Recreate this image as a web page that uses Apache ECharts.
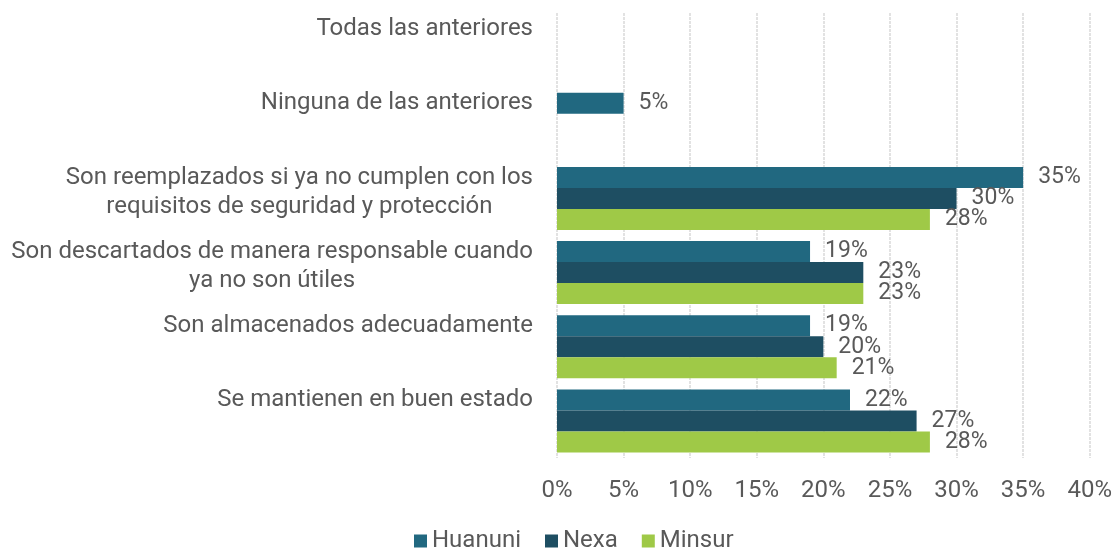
<!DOCTYPE html>
<html>
<head>
<meta charset="utf-8">
<script src="https://cdn.jsdelivr.net/npm/echarts@6/dist/echarts.min.js"></script>
<style>html,body{margin:0;padding:0;background:#fff}#c{width:1115px;height:554px}</style>
</head>
<body>
<div id="c"></div>
<script>
const categories = [
  'Se mantienen en buen estado',
  'Son almacenados adecuadamente',
  'Son descartados de manera responsable cuando\nya no son útiles',
  'Son reemplazados si ya no cumplen con los\nrequisitos de seguridad y protección',
  'Ninguna de las anteriores',
  'Todas las anteriores'
];
const seriesNames = ['Huanuni', 'Nexa', 'Minsur'];
const huanuni = [22, 19, 19, 35, 5, null];
const nexa = [27, 20, 23, 30, null, null];
const minsur = [28, 21, 23, 28, null, null];
const xTicks = [0, 5, 10, 15, 20, 25, 30, 35, 40];

const colors = { Huanuni: '#216880', Nexa: '#1e4e62', Minsur: '#9fc947' };
const FONT = 'Roboto';
const FS = 24;
const chart = echarts.init(document.getElementById('c'), null, { renderer: 'canvas' });

function mkSeries(name, data) {
  return {
    name: name, type: 'bar', data: data,
    barGap: '0%', barCategoryGap: '15%',
    itemStyle: { color: colors[name] },
    label: {
      show: true, position: 'right', distance: 15,
      formatter: p => (p.value == null ? '' : p.value + '%'),
      color: '#595959', fontFamily: FONT, fontSize: 23
    }
  };
}

chart.setOption({
  animation: false,
  grid: { left: 557, right: 25, top: 13, bottom: 96, containLabel: false },
  legend: {
    data: seriesNames, top: 529, left: 414, padding: 0,
    icon: 'rect', itemWidth: 13, itemHeight: 13, itemGap: 24,
    textStyle: { color: '#595959', fontFamily: FONT, fontSize: FS }
  },
  xAxis: {
    type: 'value', min: xTicks[0], max: xTicks[xTicks.length - 1], interval: 5,
    axisLine: { show: false }, axisTick: { show: false },
    axisLabel: { formatter: '{value}%', color: '#595959', fontFamily: FONT, fontSize: FS, margin: 21 },
    splitLine: { show: true, lineStyle: { color: '#d9d9d9', width: 1.5, type: [3, 1] } }
  },
  yAxis: {
    type: 'category', data: categories,
    axisLine: { show: false }, axisTick: { show: false },
    axisLabel: {
      margin: 24, color: '#595959', fontFamily: FONT, fontSize: FS,
      formatter: function (v) {
        const lines = v.split('\n');
        if (lines.length === 1) return '{t|' + v + '}\n{s1| }';
        return lines.map(l => '{t|' + l + '}').join('\n') + '\n{s2| }';
      },
      rich: {
        t: { align: 'center', lineHeight: 29, fontSize: FS, fontFamily: FONT, color: '#595959' },
        s1: { lineHeight: 42, fontSize: 4 },
        s2: { lineHeight: 12, fontSize: 4 }
      }
    }
  },
  series: [mkSeries('Huanuni', huanuni), mkSeries('Nexa', nexa), mkSeries('Minsur', minsur)]
});
</script>
</body>
</html>
